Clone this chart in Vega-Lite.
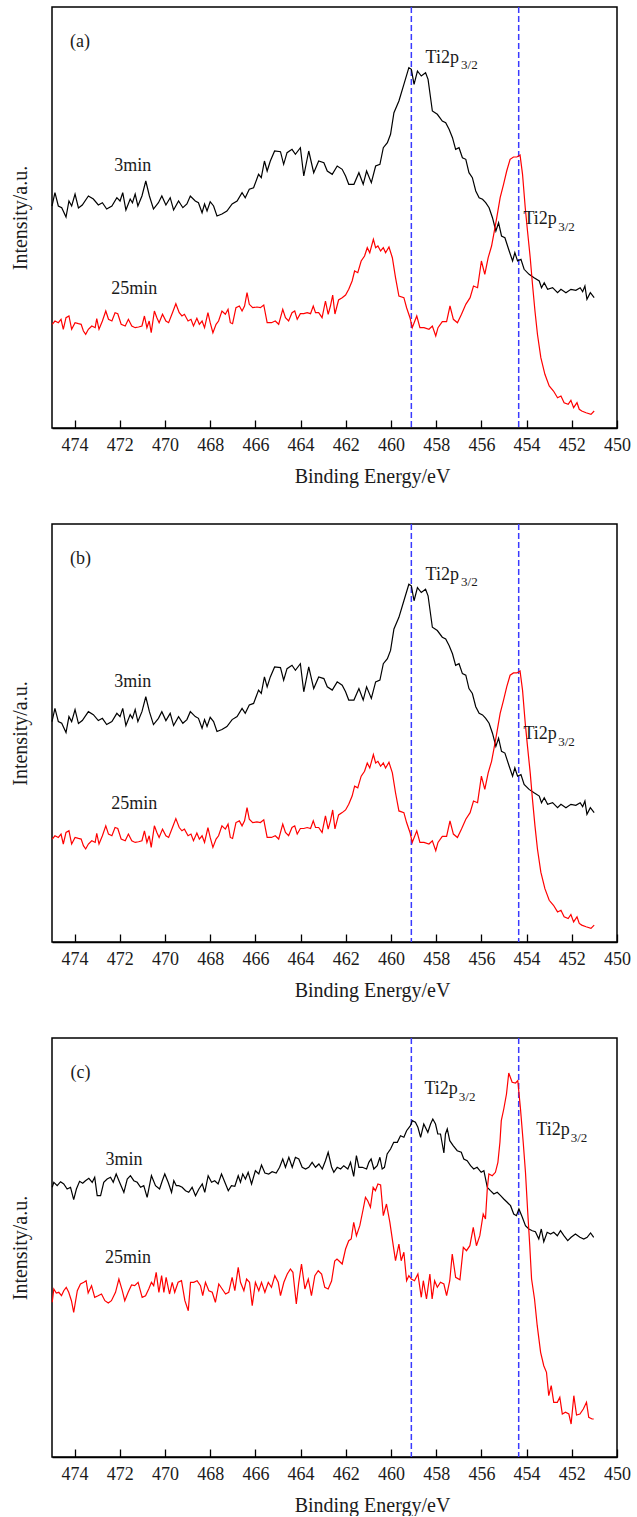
{
"$schema": "https://vega.github.io/schema/vega-lite/v6.json",
"padding": {"left": 9, "top": 5, "right": 0, "bottom": 0},
"config": {
  "font": "Liberation Serif",
  "view": {"stroke": "black", "strokeWidth": 1.5},
  "concat": {"spacing": 35},
  "text": {"font": "Liberation Serif"},
  "axis": {"grid": false, "labelFont": "Liberation Serif", "titleFont": "Liberation Serif", "labelColor": "#1a1a1a", "titleColor": "#1a1a1a", "titleFontWeight": "normal"},
  "axisX": {
    "labelFont": "Liberation Serif", "titleFont": "Liberation Serif",
    "titleFontSize": 20, "titleX": 320, "titleY": 54, "titleBaseline": "alphabetic",
    "values": [450,451,452,453,454,455,456,457,458,459,460,461,462,463,464,465,466,467,468,469,470,471,472,473,474],
    "labelExpr": "datum.value % 2 === 0 ? datum.label : ''",
    "labelFontSize": 18, "labelFlush": false, "labelOverlap": false, "labelPadding": 16,
    "tickSize": {"condition": {"test": "datum.value % 2 === 0", "value": -8}, "value": -4},
    "tickColor": "black", "tickWidth": 1.3, "domainColor": "black", "domainWidth": 1.5
  },
  "axisY": {"labelFont": "Liberation Serif", "titleFont": "Liberation Serif", "titleFontSize": 20, "labels": false, "ticks": false, "domain": false, "titlePadding": 22}
},
"datasets": {
  "vlines": [{"x": 459.1}, {"x": 454.35}],
  "labels": [
    {"p": "a", "x": 474.2, "y": 381, "t": "(a)"},
    {"p": "a", "x": 472.25, "y": 257, "t": "3min"},
    {"p": "a", "x": 472.38, "y": 134, "t": "25min"},
    {"p": "a", "x": 458.47, "y": 365, "t": "Ti2p"},
    {"p": "a", "x": 454.14, "y": 204, "t": "Ti2p"},
    {"p": "b", "x": 474.2, "y": 381, "t": "(b)"},
    {"p": "b", "x": 472.25, "y": 257, "t": "3min"},
    {"p": "b", "x": 472.38, "y": 134, "t": "25min"},
    {"p": "b", "x": 458.47, "y": 365, "t": "Ti2p"},
    {"p": "b", "x": 454.14, "y": 204, "t": "Ti2p"},
    {"p": "c", "x": 474.18, "y": 379, "t": "(c)"},
    {"p": "c", "x": 472.63, "y": 292, "t": "3min"},
    {"p": "c", "x": 472.66, "y": 193.7, "t": "25min"},
    {"p": "c", "x": 458.52, "y": 363, "t": "Ti2p"},
    {"p": "c", "x": 453.57, "y": 322, "t": "Ti2p"}
  ],
  "subs": [
    {"p": "a", "x": 456.9, "y": 359, "t": "3/2"},
    {"p": "a", "x": 452.6, "y": 197, "t": "3/2"},
    {"p": "b", "x": 456.9, "y": 359, "t": "3/2"},
    {"p": "b", "x": 452.6, "y": 197, "t": "3/2"},
    {"p": "c", "x": 457.0, "y": 356.3, "t": "3/2"},
    {"p": "c", "x": 452.05, "y": 314.7, "t": "3/2"}
  ],
  "ab": [
    {"s":"3min","x":475.0,"y":222},{"s":"3min","x":474.87,"y":235.3},{"s":"3min","x":474.72,"y":222},{"s":"3min","x":474.57,"y":220.3},{"s":"3min","x":474.38,"y":211},{"s":"3min","x":474.25,"y":227},{"s":"3min","x":474.13,"y":222},{"s":"3min","x":473.98,"y":234},{"s":"3min","x":473.83,"y":220},{"s":"3min","x":473.66,"y":223},{"s":"3min","x":473.39,"y":232},{"s":"3min","x":473.17,"y":229},{"s":"3min","x":472.95,"y":223},{"s":"3min","x":472.77,"y":225.3},{"s":"3min","x":472.58,"y":219},{"s":"3min","x":472.35,"y":222},{"s":"3min","x":472.13,"y":230.3},{"s":"3min","x":471.99,"y":227},{"s":"3min","x":471.87,"y":235.3},{"s":"3min","x":471.73,"y":218},{"s":"3min","x":471.54,"y":229},{"s":"3min","x":471.44,"y":225.3},{"s":"3min","x":471.32,"y":234},{"s":"3min","x":471.2,"y":222},{"s":"3min","x":471.02,"y":232},{"s":"3min","x":470.85,"y":247},{"s":"3min","x":470.69,"y":232},{"s":"3min","x":470.51,"y":219},{"s":"3min","x":470.29,"y":225.3},{"s":"3min","x":470.14,"y":232},{"s":"3min","x":469.96,"y":223},{"s":"3min","x":469.77,"y":230.3},{"s":"3min","x":469.62,"y":218},{"s":"3min","x":469.4,"y":227},{"s":"3min","x":469.21,"y":220.3},{"s":"3min","x":469.03,"y":224},{"s":"3min","x":468.88,"y":232},{"s":"3min","x":468.66,"y":227},{"s":"3min","x":468.52,"y":225.3},{"s":"3min","x":468.36,"y":215.3},{"s":"3min","x":468.25,"y":224},{"s":"3min","x":468.14,"y":217},{"s":"3min","x":468.0,"y":226.3},{"s":"3min","x":467.85,"y":222},{"s":"3min","x":467.7,"y":212},{"s":"3min","x":467.48,"y":214},{"s":"3min","x":467.26,"y":217},{"s":"3min","x":467.03,"y":224},{"s":"3min","x":466.81,"y":227},{"s":"3min","x":466.59,"y":235.3},{"s":"3min","x":466.45,"y":230.3},{"s":"3min","x":466.27,"y":238.7},{"s":"3min","x":466.08,"y":240.3},{"s":"3min","x":465.86,"y":253.7},{"s":"3min","x":465.74,"y":250.3},{"s":"3min","x":465.6,"y":267},{"s":"3min","x":465.48,"y":257},{"s":"3min","x":465.34,"y":267},{"s":"3min","x":465.15,"y":277},{"s":"3min","x":464.89,"y":276.3},{"s":"3min","x":464.75,"y":263.7},{"s":"3min","x":464.6,"y":275.3},{"s":"3min","x":464.38,"y":278.7},{"s":"3min","x":464.23,"y":273.7},{"s":"3min","x":464.01,"y":280.3},{"s":"3min","x":463.86,"y":252},{"s":"3min","x":463.64,"y":277},{"s":"3min","x":463.42,"y":255.3},{"s":"3min","x":463.2,"y":267},{"s":"3min","x":462.97,"y":265.3},{"s":"3min","x":462.82,"y":257},{"s":"3min","x":462.6,"y":253.7},{"s":"3min","x":462.38,"y":262},{"s":"3min","x":462.16,"y":258.7},{"s":"3min","x":462.01,"y":252},{"s":"3min","x":461.87,"y":243.7},{"s":"3min","x":461.64,"y":243.7},{"s":"3min","x":461.42,"y":255.3},{"s":"3min","x":461.23,"y":243.7},{"s":"3min","x":461.08,"y":257},{"s":"3min","x":460.87,"y":245.3},{"s":"3min","x":460.68,"y":262},{"s":"3min","x":460.49,"y":263.7},{"s":"3min","x":460.34,"y":280.3},{"s":"3min","x":460.16,"y":285.3},{"s":"3min","x":460.02,"y":293.7},{"s":"3min","x":459.87,"y":315.3},{"s":"3min","x":459.65,"y":327},{"s":"3min","x":459.43,"y":343.7},{"s":"3min","x":459.21,"y":360.3},{"s":"3min","x":459.1,"y":358.7},{"s":"3min","x":458.98,"y":343.7},{"s":"3min","x":458.83,"y":357},{"s":"3min","x":458.66,"y":352},{"s":"3min","x":458.47,"y":355.3},{"s":"3min","x":458.36,"y":348.7},{"s":"3min","x":458.17,"y":317},{"s":"3min","x":457.95,"y":313.7},{"s":"3min","x":457.73,"y":307},{"s":"3min","x":457.58,"y":305.3},{"s":"3min","x":457.43,"y":298.7},{"s":"3min","x":457.28,"y":290.3},{"s":"3min","x":457.14,"y":278.7},{"s":"3min","x":456.99,"y":280.3},{"s":"3min","x":456.84,"y":270.3},{"s":"3min","x":456.69,"y":268.7},{"s":"3min","x":456.55,"y":255.3},{"s":"3min","x":456.4,"y":250.3},{"s":"3min","x":456.25,"y":237},{"s":"3min","x":456.1,"y":230.3},{"s":"3min","x":455.95,"y":228.7},{"s":"3min","x":455.81,"y":225.3},{"s":"3min","x":455.66,"y":220.3},{"s":"3min","x":455.51,"y":210.3},{"s":"3min","x":455.36,"y":197},{"s":"3min","x":455.24,"y":205.3},{"s":"3min","x":455.11,"y":192},{"s":"3min","x":454.96,"y":190.3},{"s":"3min","x":454.77,"y":177},{"s":"3min","x":454.62,"y":167},{"s":"3min","x":454.52,"y":175.3},{"s":"3min","x":454.4,"y":167},{"s":"3min","x":454.25,"y":168.7},{"s":"3min","x":454.11,"y":158.7},{"s":"3min","x":453.89,"y":153.7},{"s":"3min","x":453.67,"y":150.3},{"s":"3min","x":453.44,"y":147},{"s":"3min","x":453.34,"y":140.3},{"s":"3min","x":453.22,"y":145.3},{"s":"3min","x":453.07,"y":138.7},{"s":"3min","x":452.85,"y":140.3},{"s":"3min","x":452.63,"y":135.3},{"s":"3min","x":452.48,"y":138.7},{"s":"3min","x":452.26,"y":135.3},{"s":"3min","x":452.04,"y":138.7},{"s":"3min","x":451.82,"y":137.7},{"s":"3min","x":451.63,"y":140.3},{"s":"3min","x":451.52,"y":136.3},{"s":"3min","x":451.42,"y":142},{"s":"3min","x":451.33,"y":128.7},{"s":"3min","x":451.18,"y":135.3},{"s":"3min","x":451.01,"y":130.3},
    {"s":"25min","x":474.99,"y":103.7},{"s":"25min","x":474.87,"y":107},{"s":"25min","x":474.72,"y":105.3},{"s":"25min","x":474.6,"y":108.7},{"s":"25min","x":474.5,"y":98.7},{"s":"25min","x":474.38,"y":110.3},{"s":"25min","x":474.25,"y":112},{"s":"25min","x":474.13,"y":98.7},{"s":"25min","x":473.98,"y":105.3},{"s":"25min","x":473.83,"y":104.3},{"s":"25min","x":473.71,"y":103.7},{"s":"25min","x":473.61,"y":97},{"s":"25min","x":473.51,"y":93.7},{"s":"25min","x":473.39,"y":98.7},{"s":"25min","x":473.24,"y":102},{"s":"25min","x":473.09,"y":100.3},{"s":"25min","x":473.02,"y":109.3},{"s":"25min","x":472.92,"y":98.7},{"s":"25min","x":472.77,"y":107},{"s":"25min","x":472.62,"y":117},{"s":"25min","x":472.5,"y":108.7},{"s":"25min","x":472.35,"y":107},{"s":"25min","x":472.21,"y":115.3},{"s":"25min","x":472.09,"y":114.3},{"s":"25min","x":471.94,"y":103.7},{"s":"25min","x":471.76,"y":102},{"s":"25min","x":471.62,"y":108.7},{"s":"25min","x":471.47,"y":102},{"s":"25min","x":471.32,"y":100.3},{"s":"25min","x":471.17,"y":101},{"s":"25min","x":471.02,"y":102},{"s":"25min","x":470.91,"y":112},{"s":"25min","x":470.8,"y":100.3},{"s":"25min","x":470.7,"y":107},{"s":"25min","x":470.61,"y":95.3},{"s":"25min","x":470.47,"y":117},{"s":"25min","x":470.36,"y":110.3},{"s":"25min","x":470.26,"y":105.3},{"s":"25min","x":470.11,"y":113.7},{"s":"25min","x":469.96,"y":107},{"s":"25min","x":469.84,"y":105.3},{"s":"25min","x":469.67,"y":115.3},{"s":"25min","x":469.52,"y":124.3},{"s":"25min","x":469.37,"y":115.3},{"s":"25min","x":469.25,"y":112},{"s":"25min","x":469.14,"y":113.7},{"s":"25min","x":468.98,"y":107},{"s":"25min","x":468.85,"y":108.7},{"s":"25min","x":468.74,"y":102},{"s":"25min","x":468.59,"y":109.7},{"s":"25min","x":468.48,"y":103.7},{"s":"25min","x":468.36,"y":107},{"s":"25min","x":468.25,"y":100.3},{"s":"25min","x":468.1,"y":115.3},{"s":"25min","x":468.0,"y":105.3},{"s":"25min","x":467.88,"y":95.3},{"s":"25min","x":467.74,"y":103.7},{"s":"25min","x":467.63,"y":107},{"s":"25min","x":467.48,"y":117},{"s":"25min","x":467.33,"y":113.7},{"s":"25min","x":467.21,"y":118.7},{"s":"25min","x":467.11,"y":105.3},{"s":"25min","x":467.01,"y":104.3},{"s":"25min","x":466.86,"y":120.3},{"s":"25min","x":466.71,"y":122},{"s":"25min","x":466.59,"y":117},{"s":"25min","x":466.48,"y":122},{"s":"25min","x":466.37,"y":135.3},{"s":"25min","x":466.27,"y":123.7},{"s":"25min","x":466.12,"y":120.3},{"s":"25min","x":465.93,"y":121},{"s":"25min","x":465.78,"y":120.3},{"s":"25min","x":465.63,"y":123},{"s":"25min","x":465.48,"y":105.3},{"s":"25min","x":465.29,"y":105.3},{"s":"25min","x":465.12,"y":107},{"s":"25min","x":464.97,"y":103.7},{"s":"25min","x":464.79,"y":118.7},{"s":"25min","x":464.67,"y":110.3},{"s":"25min","x":464.53,"y":107},{"s":"25min","x":464.38,"y":115.3},{"s":"25min","x":464.26,"y":117},{"s":"25min","x":464.15,"y":108.7},{"s":"25min","x":464.01,"y":114.3},{"s":"25min","x":463.86,"y":114.3},{"s":"25min","x":463.71,"y":115.3},{"s":"25min","x":463.56,"y":114.3},{"s":"25min","x":463.44,"y":122},{"s":"25min","x":463.34,"y":115.3},{"s":"25min","x":463.2,"y":115.3},{"s":"25min","x":463.05,"y":110.3},{"s":"25min","x":462.9,"y":127},{"s":"25min","x":462.78,"y":113.7},{"s":"25min","x":462.68,"y":122},{"s":"25min","x":462.58,"y":133},{"s":"25min","x":462.48,"y":114},{"s":"25min","x":462.32,"y":128},{"s":"25min","x":462.16,"y":130.3},{"s":"25min","x":462.01,"y":133},{"s":"25min","x":461.87,"y":138.7},{"s":"25min","x":461.72,"y":147},{"s":"25min","x":461.61,"y":157},{"s":"25min","x":461.47,"y":155.3},{"s":"25min","x":461.32,"y":167},{"s":"25min","x":461.17,"y":172},{"s":"25min","x":461.05,"y":180.3},{"s":"25min","x":460.94,"y":175.3},{"s":"25min","x":460.78,"y":188.7},{"s":"25min","x":460.68,"y":180.3},{"s":"25min","x":460.58,"y":182},{"s":"25min","x":460.46,"y":177},{"s":"25min","x":460.34,"y":180.3},{"s":"25min","x":460.24,"y":175.3},{"s":"25min","x":460.09,"y":181},{"s":"25min","x":459.94,"y":170.3},{"s":"25min","x":459.8,"y":150.3},{"s":"25min","x":459.65,"y":132},{"s":"25min","x":459.43,"y":130.3},{"s":"25min","x":459.31,"y":120.3},{"s":"25min","x":459.16,"y":110.3},{"s":"25min","x":459.06,"y":100.3},{"s":"25min","x":458.86,"y":112},{"s":"25min","x":458.72,"y":100.3},{"s":"25min","x":458.54,"y":100.3},{"s":"25min","x":458.32,"y":98.7},{"s":"25min","x":458.17,"y":102},{"s":"25min","x":458.02,"y":92},{"s":"25min","x":457.92,"y":100.3},{"s":"25min","x":457.73,"y":106.3},{"s":"25min","x":457.54,"y":106.3},{"s":"25min","x":457.39,"y":122},{"s":"25min","x":457.24,"y":108.7},{"s":"25min","x":457.06,"y":105.3},{"s":"25min","x":456.88,"y":113.7},{"s":"25min","x":456.69,"y":123.7},{"s":"25min","x":456.5,"y":130.3},{"s":"25min","x":456.35,"y":142},{"s":"25min","x":456.17,"y":140.3},{"s":"25min","x":456.0,"y":167},{"s":"25min","x":455.85,"y":153.7},{"s":"25min","x":455.7,"y":170.3},{"s":"25min","x":455.55,"y":182},{"s":"25min","x":455.44,"y":195.3},{"s":"25min","x":455.32,"y":210.3},{"s":"25min","x":455.17,"y":230.3},{"s":"25min","x":455.02,"y":243.7},{"s":"25min","x":454.88,"y":257},{"s":"25min","x":454.73,"y":268.7},{"s":"25min","x":454.58,"y":271},{"s":"25min","x":454.43,"y":271},{"s":"25min","x":454.29,"y":273},{"s":"25min","x":454.18,"y":253.7},{"s":"25min","x":454.06,"y":220.3},{"s":"25min","x":453.96,"y":197},{"s":"25min","x":453.84,"y":170.3},{"s":"25min","x":453.74,"y":143.7},{"s":"25min","x":453.63,"y":117},{"s":"25min","x":453.52,"y":93.7},{"s":"25min","x":453.37,"y":70.3},{"s":"25min","x":453.19,"y":53.7},{"s":"25min","x":453.0,"y":42},{"s":"25min","x":452.81,"y":37},{"s":"25min","x":452.63,"y":30.3},{"s":"25min","x":452.48,"y":32},{"s":"25min","x":452.34,"y":25.3},{"s":"25min","x":452.16,"y":23.7},{"s":"25min","x":452.04,"y":27.7},{"s":"25min","x":451.92,"y":20.3},{"s":"25min","x":451.77,"y":25.3},{"s":"25min","x":451.67,"y":18.7},{"s":"25min","x":451.56,"y":17},{"s":"25min","x":451.37,"y":15.3},{"s":"25min","x":451.15,"y":13.7},{"s":"25min","x":451.01,"y":17}
  ],
  "c": [
    {"s":"3min","x":474.99,"y":269.7},{"s":"3min","x":474.92,"y":274.7},{"s":"3min","x":474.77,"y":271.3},{"s":"3min","x":474.62,"y":275.3},{"s":"3min","x":474.48,"y":273},{"s":"3min","x":474.33,"y":268},{"s":"3min","x":474.18,"y":269.7},{"s":"3min","x":474.04,"y":257.3},{"s":"3min","x":473.92,"y":268},{"s":"3min","x":473.78,"y":275.7},{"s":"3min","x":473.64,"y":273.7},{"s":"3min","x":473.52,"y":276.3},{"s":"3min","x":473.37,"y":278.7},{"s":"3min","x":473.22,"y":274.7},{"s":"3min","x":473.11,"y":279.7},{"s":"3min","x":473.0,"y":261.3},{"s":"3min","x":472.85,"y":261.3},{"s":"3min","x":472.71,"y":274.7},{"s":"3min","x":472.56,"y":278},{"s":"3min","x":472.41,"y":279.7},{"s":"3min","x":472.29,"y":274.7},{"s":"3min","x":472.16,"y":283},{"s":"3min","x":472.01,"y":274.7},{"s":"3min","x":471.82,"y":264.7},{"s":"3min","x":471.67,"y":278},{"s":"3min","x":471.53,"y":281.3},{"s":"3min","x":471.38,"y":276.3},{"s":"3min","x":471.23,"y":274.7},{"s":"3min","x":471.08,"y":269.7},{"s":"3min","x":470.94,"y":271.3},{"s":"3min","x":470.79,"y":259.7},{"s":"3min","x":470.6,"y":281.3},{"s":"3min","x":470.42,"y":271.3},{"s":"3min","x":470.24,"y":268},{"s":"3min","x":470.12,"y":276.3},{"s":"3min","x":470.01,"y":283},{"s":"3min","x":469.86,"y":274.7},{"s":"3min","x":469.71,"y":264.7},{"s":"3min","x":469.61,"y":276.3},{"s":"3min","x":469.5,"y":271.3},{"s":"3min","x":469.39,"y":271.3},{"s":"3min","x":469.24,"y":269.7},{"s":"3min","x":469.09,"y":266.3},{"s":"3min","x":468.95,"y":264.7},{"s":"3min","x":468.8,"y":269.7},{"s":"3min","x":468.65,"y":261.3},{"s":"3min","x":468.5,"y":268},{"s":"3min","x":468.35,"y":273},{"s":"3min","x":468.24,"y":264.7},{"s":"3min","x":468.09,"y":281.3},{"s":"3min","x":467.94,"y":274.7},{"s":"3min","x":467.8,"y":276.3},{"s":"3min","x":467.65,"y":273},{"s":"3min","x":467.5,"y":283},{"s":"3min","x":467.32,"y":273},{"s":"3min","x":467.2,"y":266.3},{"s":"3min","x":467.06,"y":271.3},{"s":"3min","x":466.91,"y":270.7},{"s":"3min","x":466.76,"y":281.3},{"s":"3min","x":466.66,"y":274.7},{"s":"3min","x":466.56,"y":283},{"s":"3min","x":466.44,"y":278},{"s":"3min","x":466.32,"y":284.7},{"s":"3min","x":466.17,"y":273},{"s":"3min","x":466.0,"y":286.3},{"s":"3min","x":465.85,"y":283},{"s":"3min","x":465.73,"y":292},{"s":"3min","x":465.58,"y":284},{"s":"3min","x":465.41,"y":283},{"s":"3min","x":465.26,"y":285.3},{"s":"3min","x":465.08,"y":284},{"s":"3min","x":464.93,"y":289.7},{"s":"3min","x":464.79,"y":298},{"s":"3min","x":464.67,"y":289.7},{"s":"3min","x":464.52,"y":299.7},{"s":"3min","x":464.37,"y":289.7},{"s":"3min","x":464.23,"y":299.7},{"s":"3min","x":464.08,"y":298},{"s":"3min","x":463.93,"y":289.7},{"s":"3min","x":463.78,"y":288},{"s":"3min","x":463.64,"y":289.7},{"s":"3min","x":463.49,"y":294.7},{"s":"3min","x":463.34,"y":289.7},{"s":"3min","x":463.19,"y":293},{"s":"3min","x":463.04,"y":288},{"s":"3min","x":462.9,"y":296.3},{"s":"3min","x":462.78,"y":304.7},{"s":"3min","x":462.63,"y":290},{"s":"3min","x":462.53,"y":284.7},{"s":"3min","x":462.38,"y":289.7},{"s":"3min","x":462.23,"y":288},{"s":"3min","x":462.09,"y":291.3},{"s":"3min","x":461.91,"y":288},{"s":"3min","x":461.79,"y":294.7},{"s":"3min","x":461.65,"y":280.7},{"s":"3min","x":461.53,"y":301.3},{"s":"3min","x":461.42,"y":289.7},{"s":"3min","x":461.27,"y":289.7},{"s":"3min","x":461.08,"y":288},{"s":"3min","x":460.98,"y":294.7},{"s":"3min","x":460.88,"y":298},{"s":"3min","x":460.76,"y":288},{"s":"3min","x":460.61,"y":291.3},{"s":"3min","x":460.49,"y":299.7},{"s":"3min","x":460.39,"y":288},{"s":"3min","x":460.29,"y":289.7},{"s":"3min","x":460.17,"y":303},{"s":"3min","x":460.02,"y":308},{"s":"3min","x":459.88,"y":314.7},{"s":"3min","x":459.72,"y":314.7},{"s":"3min","x":459.58,"y":321.3},{"s":"3min","x":459.43,"y":319.7},{"s":"3min","x":459.31,"y":326.3},{"s":"3min","x":459.14,"y":331.3},{"s":"3min","x":459.06,"y":336.3},{"s":"3min","x":458.92,"y":334.7},{"s":"3min","x":458.81,"y":329.7},{"s":"3min","x":458.69,"y":319.7},{"s":"3min","x":458.55,"y":333},{"s":"3min","x":458.37,"y":324.7},{"s":"3min","x":458.25,"y":333},{"s":"3min","x":458.15,"y":338},{"s":"3min","x":458.03,"y":333},{"s":"3min","x":457.93,"y":323},{"s":"3min","x":457.81,"y":323},{"s":"3min","x":457.66,"y":304},{"s":"3min","x":457.59,"y":323},{"s":"3min","x":457.51,"y":328},{"s":"3min","x":457.4,"y":316.3},{"s":"3min","x":457.25,"y":311.3},{"s":"3min","x":457.07,"y":306.3},{"s":"3min","x":456.89,"y":304.7},{"s":"3min","x":456.78,"y":298},{"s":"3min","x":456.63,"y":296.3},{"s":"3min","x":456.48,"y":291.3},{"s":"3min","x":456.34,"y":288},{"s":"3min","x":456.19,"y":289.7},{"s":"3min","x":456.01,"y":284.7},{"s":"3min","x":455.89,"y":286.3},{"s":"3min","x":455.74,"y":269.7},{"s":"3min","x":455.6,"y":266.3},{"s":"3min","x":455.45,"y":263},{"s":"3min","x":455.3,"y":264.7},{"s":"3min","x":455.15,"y":261.3},{"s":"3min","x":455.01,"y":258},{"s":"3min","x":454.86,"y":254.7},{"s":"3min","x":454.71,"y":251.3},{"s":"3min","x":454.57,"y":243},{"s":"3min","x":454.45,"y":241.3},{"s":"3min","x":454.34,"y":248},{"s":"3min","x":454.19,"y":239.7},{"s":"3min","x":454.05,"y":231.3},{"s":"3min","x":453.9,"y":228},{"s":"3min","x":453.75,"y":226.3},{"s":"3min","x":453.61,"y":225.3},{"s":"3min","x":453.46,"y":218},{"s":"3min","x":453.35,"y":228},{"s":"3min","x":453.24,"y":215.3},{"s":"3min","x":453.09,"y":224.7},{"s":"3min","x":452.94,"y":223},{"s":"3min","x":452.8,"y":224.7},{"s":"3min","x":452.64,"y":221.3},{"s":"3min","x":452.5,"y":226.3},{"s":"3min","x":452.35,"y":221.3},{"s":"3min","x":452.18,"y":216.3},{"s":"3min","x":452.03,"y":219.7},{"s":"3min","x":451.84,"y":223},{"s":"3min","x":451.64,"y":219.7},{"s":"3min","x":451.47,"y":218},{"s":"3min","x":451.32,"y":219.7},{"s":"3min","x":451.17,"y":224},{"s":"3min","x":451.03,"y":219.7},
    {"s":"25min","x":474.99,"y":154.7},{"s":"25min","x":474.92,"y":168},{"s":"25min","x":474.81,"y":164},{"s":"25min","x":474.7,"y":164.7},{"s":"25min","x":474.58,"y":161.3},{"s":"25min","x":474.48,"y":166.3},{"s":"25min","x":474.37,"y":169.7},{"s":"25min","x":474.26,"y":164.7},{"s":"25min","x":474.14,"y":156.3},{"s":"25min","x":474.04,"y":144.7},{"s":"25min","x":473.88,"y":166.3},{"s":"25min","x":473.74,"y":173},{"s":"25min","x":473.59,"y":174.7},{"s":"25min","x":473.49,"y":176.3},{"s":"25min","x":473.4,"y":164},{"s":"25min","x":473.25,"y":171.3},{"s":"25min","x":473.11,"y":159.7},{"s":"25min","x":472.96,"y":161.3},{"s":"25min","x":472.81,"y":163},{"s":"25min","x":472.66,"y":156.3},{"s":"25min","x":472.51,"y":154},{"s":"25min","x":472.37,"y":156.3},{"s":"25min","x":472.19,"y":164.7},{"s":"25min","x":472.04,"y":178},{"s":"25min","x":471.89,"y":166.3},{"s":"25min","x":471.78,"y":156.3},{"s":"25min","x":471.63,"y":164.7},{"s":"25min","x":471.48,"y":172},{"s":"25min","x":471.34,"y":171.3},{"s":"25min","x":471.19,"y":174.7},{"s":"25min","x":471.01,"y":159.7},{"s":"25min","x":470.86,"y":161.3},{"s":"25min","x":470.72,"y":168},{"s":"25min","x":470.6,"y":174.7},{"s":"25min","x":470.5,"y":171.3},{"s":"25min","x":470.39,"y":184.7},{"s":"25min","x":470.27,"y":164.7},{"s":"25min","x":470.15,"y":181.3},{"s":"25min","x":470.05,"y":164.7},{"s":"25min","x":469.95,"y":179.7},{"s":"25min","x":469.8,"y":163},{"s":"25min","x":469.68,"y":174.7},{"s":"25min","x":469.57,"y":164.7},{"s":"25min","x":469.42,"y":174.7},{"s":"25min","x":469.27,"y":176.3},{"s":"25min","x":469.12,"y":156.3},{"s":"25min","x":468.97,"y":146.3},{"s":"25min","x":468.87,"y":174.7},{"s":"25min","x":468.73,"y":174.7},{"s":"25min","x":468.58,"y":176.3},{"s":"25min","x":468.43,"y":171.3},{"s":"25min","x":468.33,"y":161.3},{"s":"25min","x":468.21,"y":174.7},{"s":"25min","x":468.06,"y":166.3},{"s":"25min","x":467.91,"y":164.7},{"s":"25min","x":467.77,"y":154.7},{"s":"25min","x":467.62,"y":173},{"s":"25min","x":467.47,"y":168},{"s":"25min","x":467.32,"y":163},{"s":"25min","x":467.18,"y":164.7},{"s":"25min","x":467.03,"y":179.7},{"s":"25min","x":466.91,"y":166.3},{"s":"25min","x":466.76,"y":189.7},{"s":"25min","x":466.66,"y":174.7},{"s":"25min","x":466.51,"y":166.3},{"s":"25min","x":466.39,"y":178},{"s":"25min","x":466.26,"y":174.7},{"s":"25min","x":466.14,"y":151.3},{"s":"25min","x":466.0,"y":174.7},{"s":"25min","x":465.85,"y":166.3},{"s":"25min","x":465.73,"y":174.7},{"s":"25min","x":465.58,"y":164.7},{"s":"25min","x":465.43,"y":174.7},{"s":"25min","x":465.29,"y":169.7},{"s":"25min","x":465.14,"y":181.3},{"s":"25min","x":464.99,"y":174.7},{"s":"25min","x":464.89,"y":161.3},{"s":"25min","x":464.74,"y":174.7},{"s":"25min","x":464.59,"y":183},{"s":"25min","x":464.45,"y":188},{"s":"25min","x":464.34,"y":184.7},{"s":"25min","x":464.19,"y":153},{"s":"25min","x":464.08,"y":174.7},{"s":"25min","x":463.96,"y":193},{"s":"25min","x":463.81,"y":168},{"s":"25min","x":463.66,"y":178},{"s":"25min","x":463.52,"y":161.3},{"s":"25min","x":463.37,"y":181.3},{"s":"25min","x":463.22,"y":186.3},{"s":"25min","x":463.07,"y":183},{"s":"25min","x":462.93,"y":169.7},{"s":"25min","x":462.78,"y":168},{"s":"25min","x":462.63,"y":176},{"s":"25min","x":462.49,"y":196},{"s":"25min","x":462.39,"y":198},{"s":"25min","x":462.31,"y":196.3},{"s":"25min","x":462.16,"y":193},{"s":"25min","x":462.01,"y":208},{"s":"25min","x":461.87,"y":216.3},{"s":"25min","x":461.76,"y":218},{"s":"25min","x":461.65,"y":234.7},{"s":"25min","x":461.53,"y":221.3},{"s":"25min","x":461.38,"y":231.3},{"s":"25min","x":461.23,"y":248},{"s":"25min","x":461.13,"y":259.7},{"s":"25min","x":461.03,"y":256.3},{"s":"25min","x":460.91,"y":249.7},{"s":"25min","x":460.79,"y":269.7},{"s":"25min","x":460.69,"y":266.3},{"s":"25min","x":460.58,"y":273},{"s":"25min","x":460.46,"y":272},{"s":"25min","x":460.34,"y":241.3},{"s":"25min","x":460.2,"y":253},{"s":"25min","x":460.05,"y":234.7},{"s":"25min","x":459.9,"y":211.3},{"s":"25min","x":459.8,"y":196.3},{"s":"25min","x":459.65,"y":213},{"s":"25min","x":459.55,"y":196.3},{"s":"25min","x":459.43,"y":204.7},{"s":"25min","x":459.31,"y":176.3},{"s":"25min","x":459.21,"y":181.3},{"s":"25min","x":459.1,"y":178},{"s":"25min","x":458.96,"y":176.3},{"s":"25min","x":458.81,"y":183},{"s":"25min","x":458.66,"y":159.7},{"s":"25min","x":458.57,"y":176.3},{"s":"25min","x":458.43,"y":158},{"s":"25min","x":458.28,"y":183},{"s":"25min","x":458.18,"y":158},{"s":"25min","x":458.07,"y":176.3},{"s":"25min","x":457.95,"y":169.7},{"s":"25min","x":457.81,"y":174.7},{"s":"25min","x":457.66,"y":173},{"s":"25min","x":457.54,"y":161.3},{"s":"25min","x":457.4,"y":176.3},{"s":"25min","x":457.29,"y":203},{"s":"25min","x":457.14,"y":179.7},{"s":"25min","x":456.95,"y":177.3},{"s":"25min","x":456.8,"y":209.7},{"s":"25min","x":456.66,"y":206.3},{"s":"25min","x":456.51,"y":211.3},{"s":"25min","x":456.36,"y":229.7},{"s":"25min","x":456.22,"y":211.3},{"s":"25min","x":456.07,"y":221.3},{"s":"25min","x":455.92,"y":243},{"s":"25min","x":455.82,"y":238},{"s":"25min","x":455.74,"y":268},{"s":"25min","x":455.67,"y":283},{"s":"25min","x":455.52,"y":281.3},{"s":"25min","x":455.38,"y":284.7},{"s":"25min","x":455.27,"y":294.7},{"s":"25min","x":455.18,"y":314.7},{"s":"25min","x":455.12,"y":336.3},{"s":"25min","x":455.01,"y":348},{"s":"25min","x":454.89,"y":363},{"s":"25min","x":454.79,"y":384},{"s":"25min","x":454.64,"y":374.7},{"s":"25min","x":454.49,"y":374},{"s":"25min","x":454.39,"y":376.3},{"s":"25min","x":454.27,"y":348},{"s":"25min","x":454.15,"y":314.7},{"s":"25min","x":454.05,"y":284.7},{"s":"25min","x":453.95,"y":244.7},{"s":"25min","x":453.86,"y":211.3},{"s":"25min","x":453.78,"y":178},{"s":"25min","x":453.65,"y":158},{"s":"25min","x":453.53,"y":131.3},{"s":"25min","x":453.38,"y":104.7},{"s":"25min","x":453.24,"y":91.3},{"s":"25min","x":453.12,"y":84.7},{"s":"25min","x":453.02,"y":61.3},{"s":"25min","x":452.91,"y":71.3},{"s":"25min","x":452.8,"y":54.7},{"s":"25min","x":452.64,"y":54.7},{"s":"25min","x":452.53,"y":59.7},{"s":"25min","x":452.42,"y":43},{"s":"25min","x":452.28,"y":44.7},{"s":"25min","x":452.13,"y":43},{"s":"25min","x":452.03,"y":33},{"s":"25min","x":451.91,"y":61.3},{"s":"25min","x":451.79,"y":42},{"s":"25min","x":451.64,"y":43},{"s":"25min","x":451.49,"y":48},{"s":"25min","x":451.35,"y":54.7},{"s":"25min","x":451.25,"y":39.7},{"s":"25min","x":451.1,"y":38},{"s":"25min","x":451.03,"y":38}
  ]
},
"vconcat": [
  {
    "width": 565, "height": 421,
    "layer": [
      {"data": {"name": "vlines"}, "mark": {"type": "rule", "color": "#3a3aff", "strokeDash": [6, 3], "strokeWidth": 1.5},
       "encoding": {"x": {"field": "x", "type": "quantitative", "scale": {"domain": [450, 475], "reverse": true, "nice": false, "zero": false}, "axis": {"title": "Binding Energy/eV", "labelFont": "Liberation Serif"}}}},
      {"data": {"name": "ab"}, "mark": {"type": "line", "strokeWidth": 1.2},
       "encoding": {
         "x": {"field": "x", "type": "quantitative", "scale": {"domain": [450, 475], "reverse": true, "nice": false, "zero": false}, "axis": {"title": "Binding Energy/eV", "labelFont": "Liberation Serif"}},
         "y": {"field": "y", "type": "quantitative", "scale": {"domain": [0, 421], "nice": false}, "axis": {"title": "Intensity/a.u."}},
         "color": {"field": "s", "type": "nominal", "scale": {"domain": ["3min", "25min"], "range": ["#000000", "#ff0000"]}, "legend": null}}},
      {"data": {"name": "labels"}, "transform": [{"filter": "datum.p === 'a'"}], "mark": {"type": "text", "align": "left", "baseline": "alphabetic", "fontSize": 18, "color": "#1a1a1a", "font": "Liberation Serif"},
       "encoding": {"x": {"field": "x", "type": "quantitative", "axis": {"title": "Binding Energy/eV", "labelFont": "Liberation Serif"}}, "y": {"field": "y", "type": "quantitative", "axis": {"title": "Intensity/a.u."}}, "text": {"field": "t"}}},
      {"data": {"name": "subs"}, "transform": [{"filter": "datum.p === 'a'"}], "mark": {"type": "text", "align": "left", "baseline": "alphabetic", "fontSize": 13, "color": "#1a1a1a", "font": "Liberation Serif"},
       "encoding": {"x": {"field": "x", "type": "quantitative", "axis": {"title": "Binding Energy/eV", "labelFont": "Liberation Serif"}}, "y": {"field": "y", "type": "quantitative", "axis": {"title": "Intensity/a.u."}}, "text": {"field": "t"}}}
    ]
  },
  {
    "width": 565, "height": 418,
    "layer": [
      {"data": {"name": "vlines"}, "mark": {"type": "rule", "color": "#3a3aff", "strokeDash": [6, 3], "strokeWidth": 1.5},
       "encoding": {"x": {"field": "x", "type": "quantitative", "scale": {"domain": [450, 475], "reverse": true, "nice": false, "zero": false}, "axis": {"title": "Binding Energy/eV", "labelFont": "Liberation Serif"}}}},
      {"data": {"name": "ab"}, "mark": {"type": "line", "strokeWidth": 1.2},
       "encoding": {
         "x": {"field": "x", "type": "quantitative", "scale": {"domain": [450, 475], "reverse": true, "nice": false, "zero": false}, "axis": {"title": "Binding Energy/eV", "labelFont": "Liberation Serif"}},
         "y": {"field": "y", "type": "quantitative", "scale": {"domain": [0, 421], "nice": false}, "axis": {"title": "Intensity/a.u."}},
         "color": {"field": "s", "type": "nominal", "scale": {"domain": ["3min", "25min"], "range": ["#000000", "#ff0000"]}, "legend": null}}},
      {"data": {"name": "labels"}, "transform": [{"filter": "datum.p === 'b'"}], "mark": {"type": "text", "align": "left", "baseline": "alphabetic", "fontSize": 18, "color": "#1a1a1a", "font": "Liberation Serif"},
       "encoding": {"x": {"field": "x", "type": "quantitative", "axis": {"title": "Binding Energy/eV", "labelFont": "Liberation Serif"}}, "y": {"field": "y", "type": "quantitative", "axis": {"title": "Intensity/a.u."}}, "text": {"field": "t"}}},
      {"data": {"name": "subs"}, "transform": [{"filter": "datum.p === 'b'"}], "mark": {"type": "text", "align": "left", "baseline": "alphabetic", "fontSize": 13, "color": "#1a1a1a", "font": "Liberation Serif"},
       "encoding": {"x": {"field": "x", "type": "quantitative", "axis": {"title": "Binding Energy/eV", "labelFont": "Liberation Serif"}}, "y": {"field": "y", "type": "quantitative", "axis": {"title": "Intensity/a.u."}}, "text": {"field": "t"}}}
    ]
  },
  {
    "width": 565, "height": 419,
    "layer": [
      {"data": {"name": "vlines"}, "mark": {"type": "rule", "color": "#3a3aff", "strokeDash": [6, 3], "strokeWidth": 1.5},
       "encoding": {"x": {"field": "x", "type": "quantitative", "scale": {"domain": [450, 475], "reverse": true, "nice": false, "zero": false}, "axis": {"title": "Binding Energy/eV", "labelFont": "Liberation Serif"}}}},
      {"data": {"name": "c"}, "mark": {"type": "line", "strokeWidth": 1.2},
       "encoding": {
         "x": {"field": "x", "type": "quantitative", "scale": {"domain": [450, 475], "reverse": true, "nice": false, "zero": false}, "axis": {"title": "Binding Energy/eV", "labelFont": "Liberation Serif"}},
         "y": {"field": "y", "type": "quantitative", "scale": {"domain": [0, 419], "nice": false}, "axis": {"title": "Intensity/a.u."}},
         "color": {"field": "s", "type": "nominal", "scale": {"domain": ["3min", "25min"], "range": ["#000000", "#ff0000"]}, "legend": null}}},
      {"data": {"name": "labels"}, "transform": [{"filter": "datum.p === 'c'"}], "mark": {"type": "text", "align": "left", "baseline": "alphabetic", "fontSize": 18, "color": "#1a1a1a", "font": "Liberation Serif"},
       "encoding": {"x": {"field": "x", "type": "quantitative", "axis": {"title": "Binding Energy/eV", "labelFont": "Liberation Serif"}}, "y": {"field": "y", "type": "quantitative", "axis": {"title": "Intensity/a.u."}}, "text": {"field": "t"}}},
      {"data": {"name": "subs"}, "transform": [{"filter": "datum.p === 'c'"}], "mark": {"type": "text", "align": "left", "baseline": "alphabetic", "fontSize": 13, "color": "#1a1a1a", "font": "Liberation Serif"},
       "encoding": {"x": {"field": "x", "type": "quantitative", "axis": {"title": "Binding Energy/eV", "labelFont": "Liberation Serif"}}, "y": {"field": "y", "type": "quantitative", "axis": {"title": "Intensity/a.u."}}, "text": {"field": "t"}}}
    ]
  }
]
}
